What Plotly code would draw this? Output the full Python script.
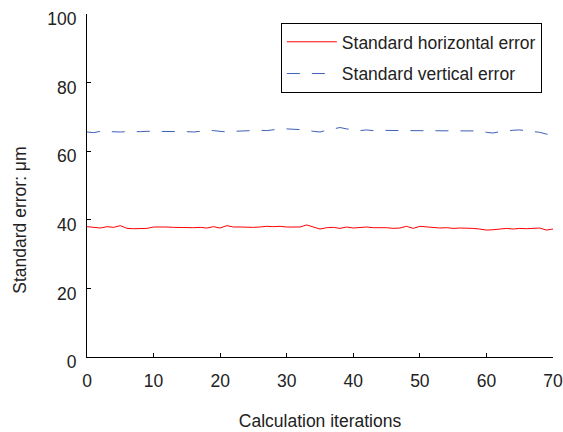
import plotly.graph_objects as go

iterations = list(range(0, 71))
horizontal_error = [38.0, 37.9, 37.6, 38.0, 37.8, 38.3, 37.5, 37.4, 37.4, 37.5,
                    37.9, 38.0, 37.9, 37.8, 37.7, 37.8, 37.7, 37.8, 37.6, 38.0,
                    37.6, 38.3, 37.9, 37.9, 37.8, 37.8, 37.9, 38.1, 38.0, 38.1,
                    37.9, 38.0, 37.9, 38.5, 38.0, 37.3, 37.7, 37.8, 37.5, 37.9,
                    37.6, 37.8, 37.9, 37.7, 37.8, 37.7, 37.5, 37.6, 38.1, 37.5,
                    38.1, 37.9, 37.7, 37.6, 37.7, 37.5, 37.6, 37.6, 37.5, 37.3,
                    37.0, 37.1, 37.3, 37.5, 37.3, 37.5, 37.4, 37.5, 37.6, 37.0,
                    37.3]
vertical_error = [65.6, 65.4, 65.8, 65.7, 65.6, 65.6, 65.7, 65.6, 65.7, 65.8,
                  65.8, 65.8, 65.9, 65.9, 65.8, 65.7, 65.6, 65.9, 66.0, 66.0,
                  65.9, 65.6, 65.8, 65.9, 66.0, 65.9, 66.1, 66.0, 66.3, 66.5,
                  66.5, 66.4, 66.4, 66.2, 65.8, 65.6, 66.1, 66.6, 66.9, 66.5,
                  66.3, 66.0, 66.2, 66.0, 66.1, 66.0, 66.0, 66.0, 66.0, 66.0,
                  65.9, 66.0, 66.1, 66.0, 66.0, 66.0, 66.0, 66.1, 66.0, 65.9,
                  65.5, 65.3, 65.7, 66.0, 66.1, 66.2, 66.0, 65.8, 65.5, 65.0,
                  64.8]
x_ticks = [0, 10, 20, 30, 40, 50, 60, 70]
y_ticks = [0, 20, 40, 60, 80, 100]

font_family = "Liberation Sans, Arial, sans-serif"
text_color = "#222222"
fsize = 17.5

fig = go.Figure()
fig.add_trace(go.Scatter(x=iterations, y=horizontal_error, mode="lines",
                         name="Standard horizontal error", legendgroup="h",
                         line=dict(color="#ff0000", width=1)))
fig.add_trace(go.Scatter(x=iterations, y=vertical_error, mode="lines",
                         name="Standard vertical error", legendgroup="v",
                         line=dict(color="#3d5fb5", width=1, dash="13px,12px")))

axis_common = dict(showgrid=False, zeroline=False, showline=True,
                   linecolor="#000000", linewidth=1, ticks="inside",
                   ticklen=4, tickcolor="#000000", mirror=False, automargin=False,
                   tickfont=dict(family=font_family, size=fsize, color=text_color))

fig.update_xaxes(range=[0, 70], tickvals=x_ticks, ticklabelstandoff=8,
                 title=dict(text="Calculation iterations", standoff=24,
                            font=dict(family=font_family, size=fsize, color=text_color)),
                 **axis_common)
fig.update_yaxes(range=[0, 100], tickvals=y_ticks, ticklabelstandoff=6,
                 ticklabelshift=5, **axis_common)

# y-axis title placed as annotation (it sits below the plot centre in the reference)
fig.add_annotation(text="Standard error: μm", textangle=-90,
                   xref="paper", yref="paper", x=-0.144, y=0.40,
                   xanchor="center", yanchor="middle", showarrow=False,
                   font=dict(family=font_family, size=fsize, color=text_color))

fig.update_layout(
    width=563, height=432,
    margin=dict(l=87, r=10, t=14, b=75),
    paper_bgcolor="white", plot_bgcolor="white",
    showlegend=True,
    legend=dict(x=0.416, y=0.974, xanchor="left", yanchor="top",
                bordercolor="#000000", borderwidth=1, bgcolor="white",
                traceorder="grouped", tracegroupgap=6, itemwidth=50,
                font=dict(family=font_family, size=fsize, color=text_color)),
)

fig.write_html("out.html")
